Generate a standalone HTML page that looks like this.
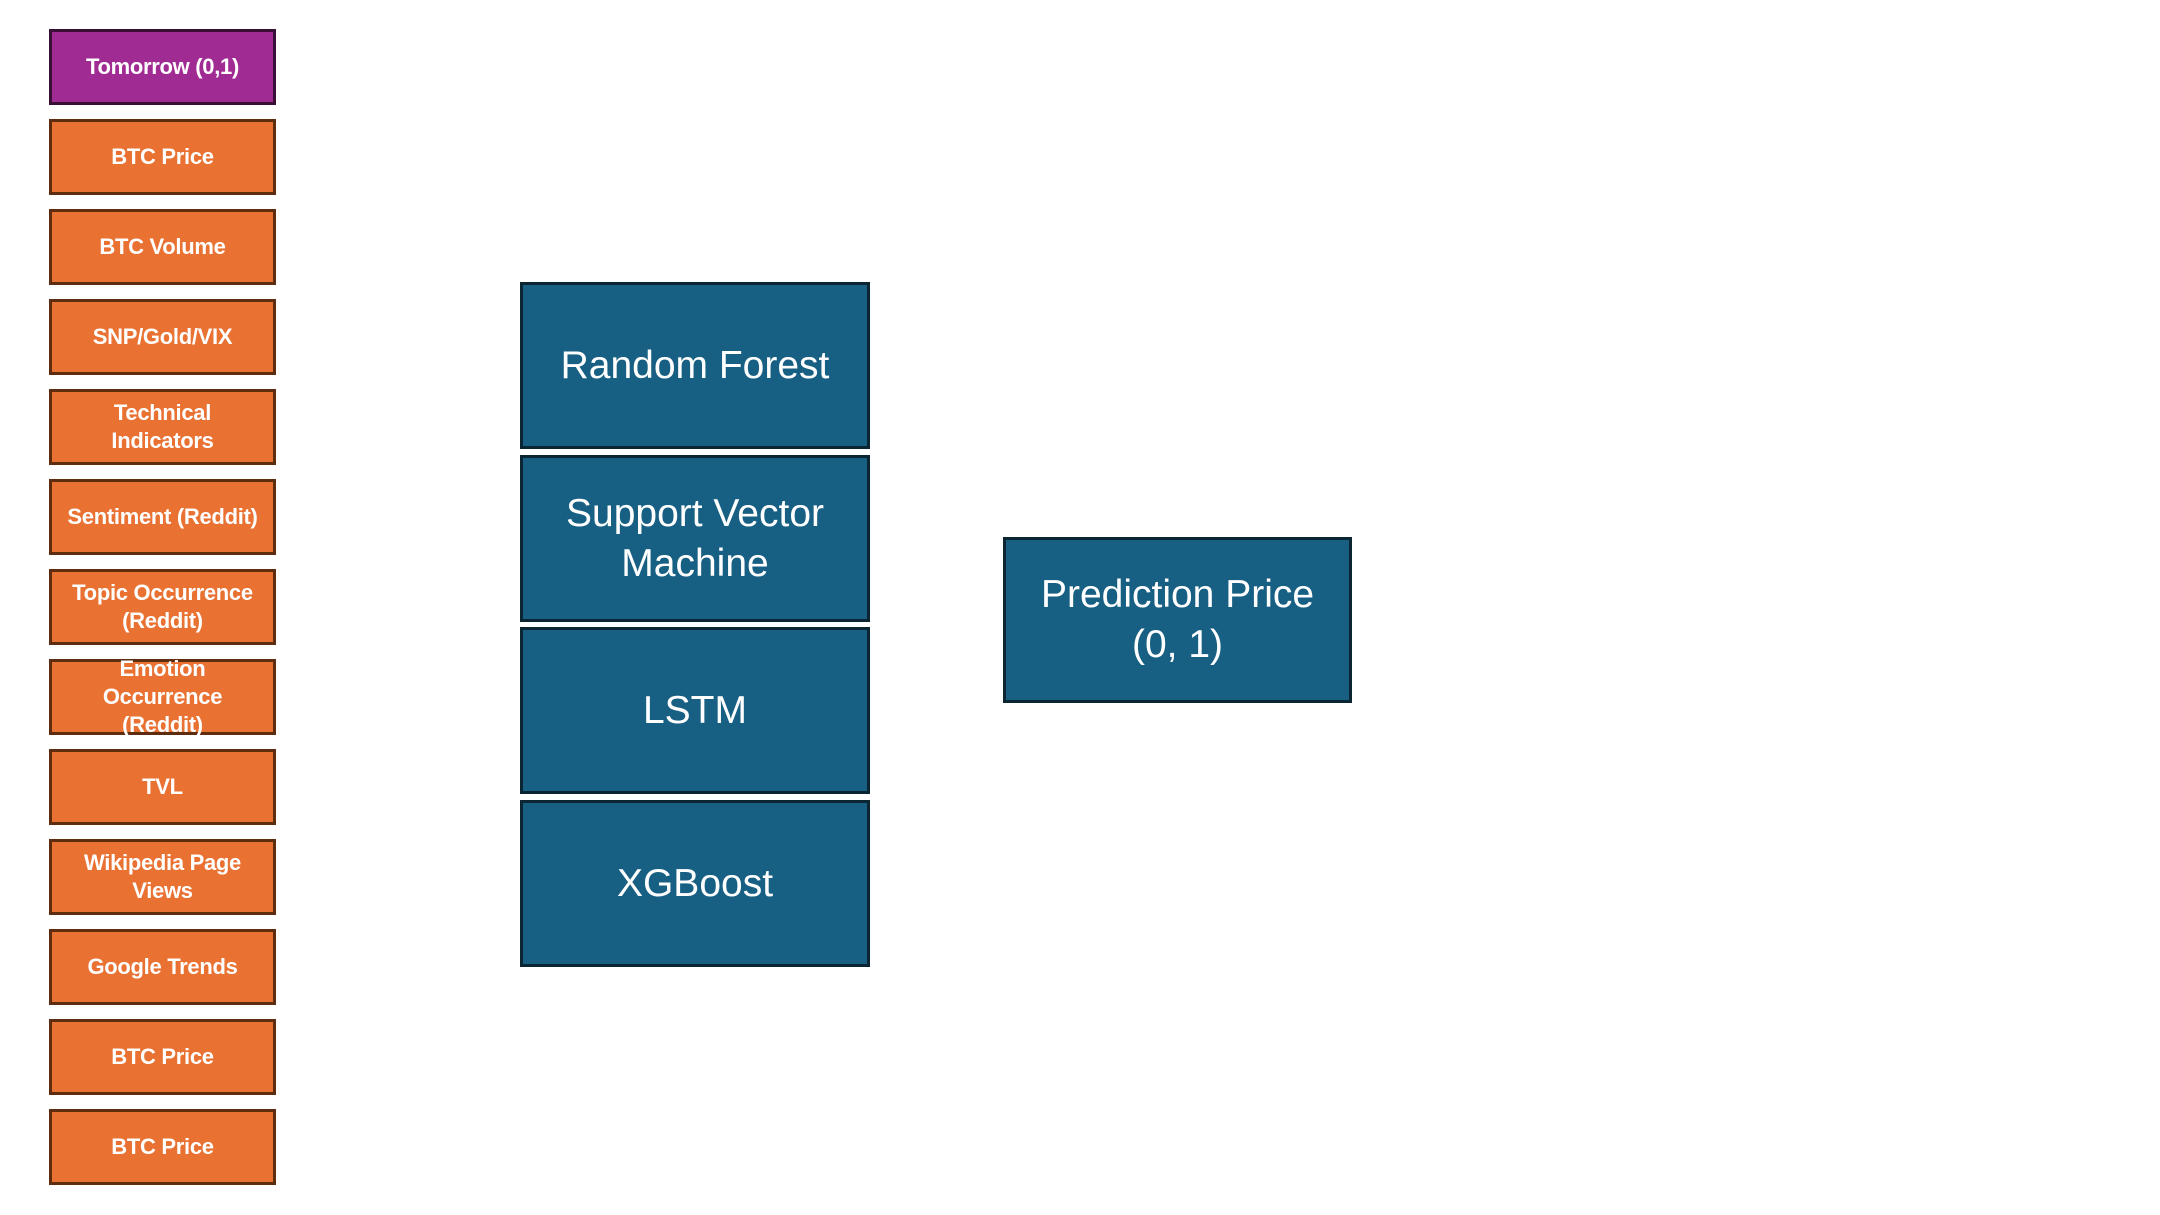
<!DOCTYPE html>
<html><head><meta charset="utf-8"><style>
html,body{margin:0;padding:0;background:#fff;}
body{width:2160px;height:1215px;position:relative;overflow:hidden;font-family:"Liberation Sans",sans-serif;}
.b{position:absolute;box-sizing:border-box;display:flex;align-items:center;justify-content:center;text-align:center;color:#fff;}
.o{left:49px;width:227px;height:76px;background:#E97132;border:3px solid #5e2c0e;font-size:22px;line-height:28px;font-weight:bold;letter-spacing:-0.3px;}
.p{background:#A02B93;border-color:#3a0f35;}
.m{left:520px;width:350px;height:167px;background:#186083;border:3px solid #0b2533;font-size:39px;line-height:50px;}
</style></head><body>
<div class="b o p" style="top:29px">Tomorrow (0,1)</div>
<div class="b o" style="top:119px">BTC Price</div>
<div class="b o" style="top:209px">BTC Volume</div>
<div class="b o" style="top:299px">SNP/Gold/VIX</div>
<div class="b o" style="top:389px">Technical<br>Indicators</div>
<div class="b o" style="top:479px">Sentiment (Reddit)</div>
<div class="b o" style="top:569px">Topic Occurrence<br>(Reddit)</div>
<div class="b o" style="top:659px">Emotion<br>Occurrence<br>(Reddit)</div>
<div class="b o" style="top:749px">TVL</div>
<div class="b o" style="top:839px">Wikipedia Page<br>Views</div>
<div class="b o" style="top:929px">Google Trends</div>
<div class="b o" style="top:1019px">BTC Price</div>
<div class="b o" style="top:1109px">BTC Price</div>
<div class="b m" style="top:282px">Random Forest</div>
<div class="b m" style="top:455px">Support Vector<br>Machine</div>
<div class="b m" style="top:627px">LSTM</div>
<div class="b m" style="top:800px">XGBoost</div>
<div class="b m" style="left:1003px;top:537px;width:349px;height:166px;">Prediction Price<br>(0, 1)</div>
</body></html>
